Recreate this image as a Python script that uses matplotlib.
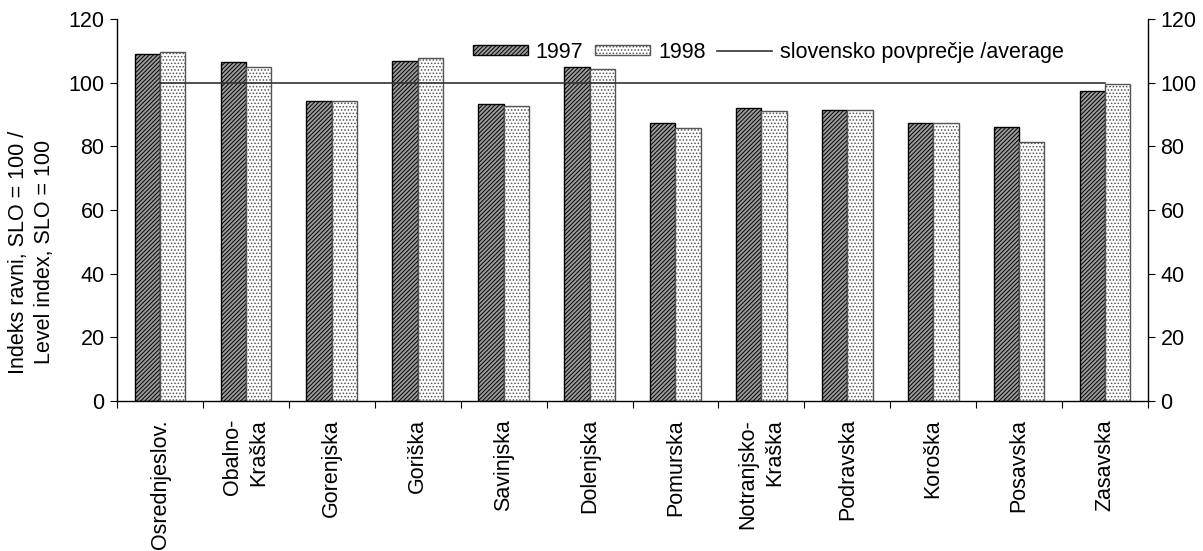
import matplotlib
matplotlib.use("Agg")
import matplotlib.pyplot as plt
import numpy as np

categories = ["Osrednjeslov.", "Obalno-\nKraška", "Gorenjska", "Goriška", "Savinjska",
              "Dolenjska", "Pomurska", "Notranjsko-\nKraška", "Podravska", "Koroška",
              "Posavska", "Zasavska"]
v1997 = [109.1, 106.4, 94.2, 106.9, 93.2, 104.9, 87.3, 92.0, 91.5, 87.2, 86.2, 97.3]
v1998 = [109.5, 104.8, 94.2, 107.6, 92.6, 104.3, 85.7, 91.0, 91.5, 87.2, 81.3, 99.5]
average = 100
yticks = [0, 20, 40, 60, 80, 100, 120]

plt.rcParams['font.family'] = ['Liberation Sans', 'DejaVu Sans']
plt.rcParams['hatch.linewidth'] = 0.7

TXT = 15.5
NUM = 15.5

fig = plt.figure(figsize=(12.03, 5.51), dpi=100)
ax = fig.add_axes([0.0973, 0.2722, 0.857, 0.6933])

x = np.arange(len(categories))
w = 0.295
b1 = ax.bar(x - w/2, v1997, w, facecolor='#9c9c9c', edgecolor='black', hatch='////////',
            linewidth=1.0, label='1997')
b2 = ax.bar(x + w/2, v1998, w, facecolor='white', edgecolor='#555555', hatch='.....',
            linewidth=1.0, label='1998')
ln, = ax.plot([x[0], x[-1]], [average, average], color='#333333', linewidth=1.2,
              label='slovensko povprečje /average')

ax.set_xlim(-0.5, len(categories) - 0.5)
ax.set_ylim(0, 120)
ax.set_yticks(yticks)
ax.tick_params(axis='y', which='both', left=True, right=True, labelleft=True, labelright=True,
               direction='out', length=5, labelsize=NUM, pad=4)
ax.set_xticks(np.arange(len(categories) + 1) - 0.5)
ax.set_xticklabels([])
ax.tick_params(axis='x', direction='out', length=5)
ax.set_xticks(x, minor=True)
ax.set_xticklabels(categories, minor=True, rotation=90, ha='center', va='top',
                   multialignment='right', fontsize=TXT, linespacing=1.35)
ax.tick_params(axis='x', which='minor', length=0, pad=13)

ax.spines['top'].set_visible(False)
for s in ['left', 'right', 'bottom']:
    ax.spines[s].set_linewidth(1.0)

ax.set_ylabel("Indeks ravni, SLO = 100 /\nLevel index, SLO = 100", fontsize=TXT,
              linespacing=1.35)
ax.yaxis.set_label_coords(-0.060, 0.39)

ax.legend(handles=[b1, b2, ln], loc='center left', bbox_to_anchor=(0.345, 0.9136), ncol=3,
          frameon=False, fontsize=TXT, handlelength=2.55, handleheight=0.33,
          columnspacing=0.55, handletextpad=0.37, borderpad=0, borderaxespad=0)

fig.savefig('out.png', dpi=100)
